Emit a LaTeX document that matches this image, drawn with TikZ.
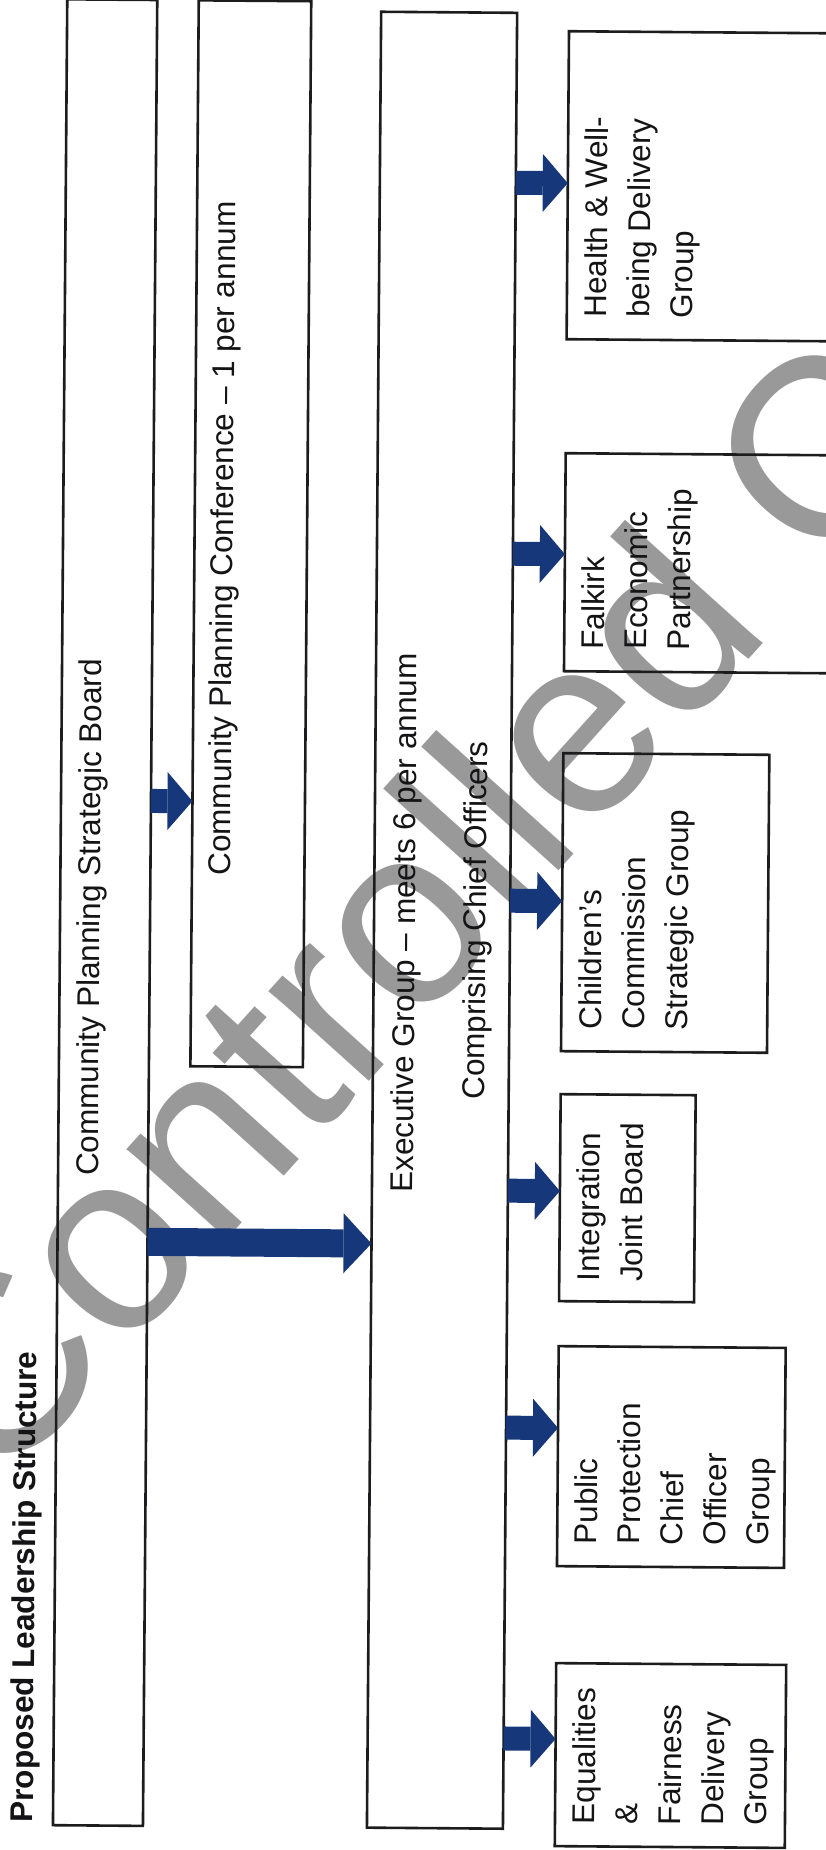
\documentclass[tikz,border=0pt]{standalone}
\usepackage{fontspec}
\setmainfont{Liberation Sans}
\usetikzlibrary{arrows.meta,calc}
\definecolor{wmgray}{RGB}{153,153,153}
\definecolor{boxline}{RGB}{28,28,30}
\definecolor{txt}{RGB}{20,20,22}
\definecolor{arrblue}{RGB}{22,56,122}
\begin{document}
\begin{tikzpicture}[x=1pt,y=-1pt,
  every node/.style={inner sep=0pt,outer sep=0pt},
  bx/.style={draw=boxline,line width=2.6pt,rectangle},
  lbl/.style={rotate=90,text=txt,font=\fontsize{31.5}{43}\selectfont},
  grp/.style={lbl,anchor=north west,align=left},
  ttl/.style={rotate=90,text=txt,font=\bfseries\fontsize{31.5}{38}\selectfont},
  arr/.style={draw=arrblue,line width=24pt,-{Triangle[length=25pt,width=58pt,line width=0pt]}},
  bigarr/.style={draw=arrblue,line width=28pt,-{Triangle[length=28pt,width=60pt,line width=0pt]}}
]
\useasboundingbox (0,0) rectangle (826,1850);
\clip (0,0) rectangle (826,1850);
\fill[white] (0,0) rectangle (826,1850);
% watermark
\node[text=wmgray,rotate=48,font=\fontsize{255}{255}\selectfont] (wm) at (560,771) {Controlled Copy};
\begin{scope}[rotate around={-0.45:(413,925)},transform shape]
% boxes
\node[bx,minimum width=90pt,minimum height=1826pt] (sb) at (105,915) {};
\node[bx,minimum width=112.5pt,minimum height=1066pt] (conf) at (247.75,535) {};
\node[bx,minimum width=136pt,minimum height=1816pt] (exec) at (442,920) {};
\node[bx,minimum width=273pt,minimum height=308pt] (hw) at (698.5,184) {};
\node[bx,minimum width=273pt,minimum height=218pt] (fep) at (698.5,561) {};
\node[bx,minimum width=206pt,minimum height=298pt] (ccs) at (665,901) {};
\node[bx,minimum width=135pt,minimum height=207pt] (ijb) at (629.5,1196.5) {};
\node[bx,minimum width=227pt,minimum height=220pt] (ppc) at (675.5,1455) {};
\node[bx,minimum width=230pt,minimum height=183pt] (efd) at (677,1753.5) {};
% texts
\node[ttl,anchor=base] (title) at (40,1590) {Proposed Leadership Structure};
\node[lbl,anchor=base] (sbt) at (100,920) {Community Planning Strategic Board};
\node[lbl,anchor=base] (conft) at (230,540) {Community Planning Conference -- 1 per annum};
\node[lbl,anchor=base] (exect1) at (415,923) {Executive Group -- meets 6 per annum};
\node[lbl,anchor=base] (exect2) at (486,920) {Comprising Chief Officers};
\node[grp] (hwt) at (579,316) {Health \& Well-\\being Delivery\\Group};
\node[grp] (fept) at (579,648) {Falkirk\\Economic\\Partnership};
\node[grp] (ccst) at (579,1028) {Children’s\\Commission\\Strategic Group};
\node[grp] (ijbt) at (579,1280) {Integration\\Joint Board};
\node[grp] (ppct) at (579,1543) {Public\\Protection\\Chief\\Officer\\Group};
\node[grp] (efdt) at (579,1823) {Equalities\\\&\\Fairness\\Delivery\\Group};
% arrows
\draw[bigarr] ($(sb.north east)!0.6802!(sb.south east)$) -- ($(exec.north west)!0.6784!(exec.south west)$);
\draw[arr] ($(sb.north east)!0.4387!(sb.south east)$) -- ($(conf.north west)!0.7514!(conf.south west)$);
\draw[arr] ($(exec.north east)!0.0936!(exec.south east)$) -- ($(hw.north west)!0.4935!(hw.south west)$);
\draw[arr] ($(exec.north east)!0.2979!(exec.south east)$) -- ($(fep.north west)!0.4633!(fep.south west)$);
\draw[arr] ($(exec.north east)!0.4890!(exec.south east)$) -- ($(ccs.north west)!0.4966!(ccs.south west)$);
\draw[arr] ($(exec.north east)!0.6487!(exec.south east)$) -- ($(ijb.north west)!0.4686!(ijb.south west)$);
\draw[arr] ($(exec.north east)!0.7792!(exec.south east)$) -- ($(ppc.north west)!0.3727!(ppc.south west)$);
\draw[arr] ($(exec.north east)!0.9504!(exec.south east)$) -- ($(efd.north west)!0.4153!(efd.south west)$);
\end{scope}
\end{tikzpicture}
\end{document}
